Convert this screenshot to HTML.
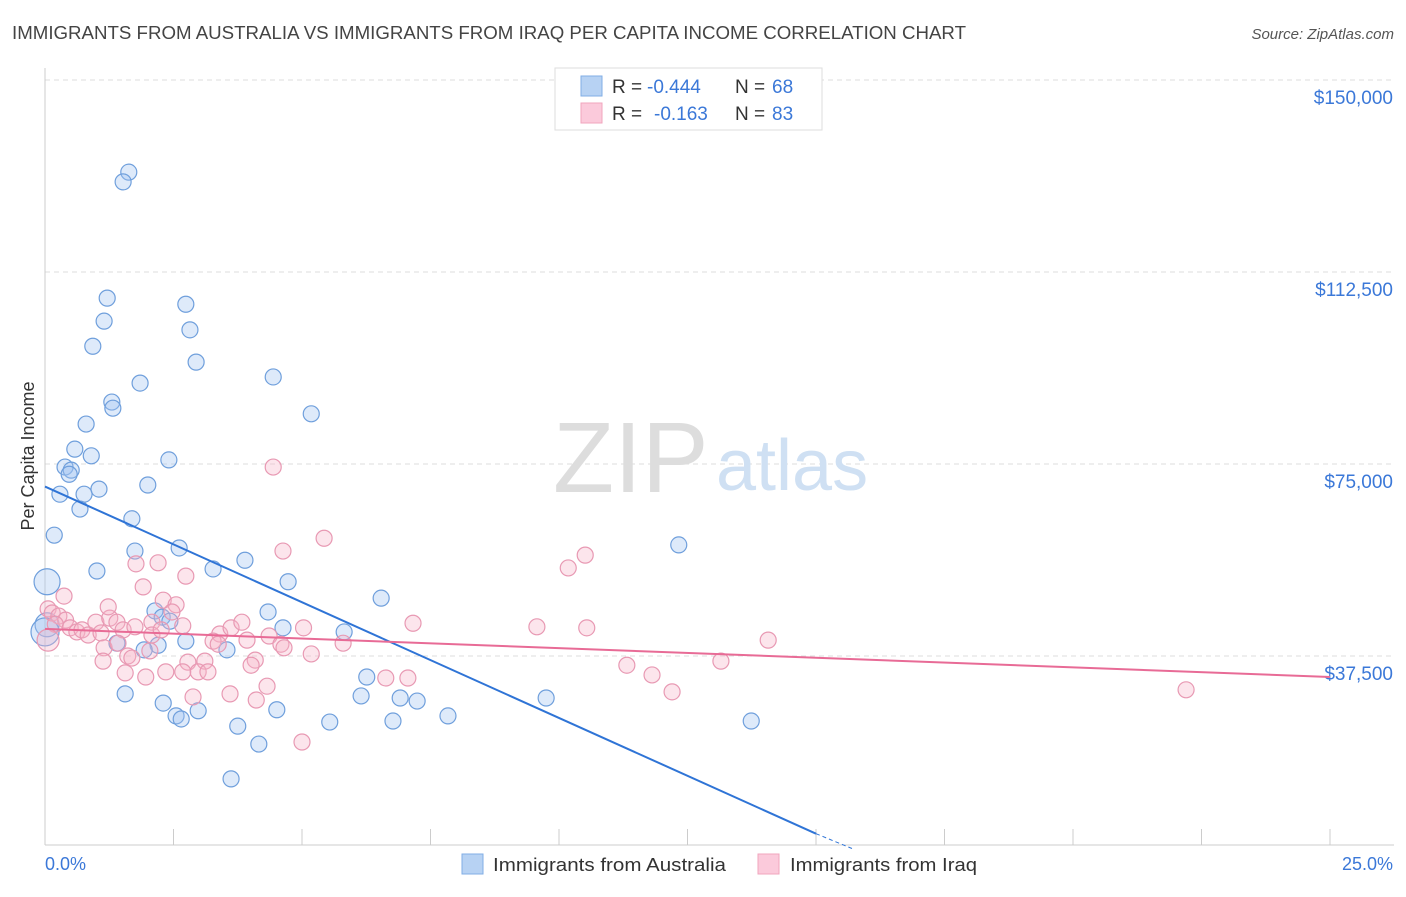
<!DOCTYPE html>
<html><head><meta charset="utf-8">
<style>
body{margin:0;background:#fff;font-family:"Liberation Sans",sans-serif;}
svg text{font-family:"Liberation Sans",sans-serif;}
</style></head>
<body>
<svg id="chart" width="1406" height="892">
<text x="12" y="39" font-size="18" fill="#444" textLength="954" lengthAdjust="spacingAndGlyphs">IMMIGRANTS FROM AUSTRALIA VS IMMIGRANTS FROM IRAQ PER CAPITA INCOME CORRELATION CHART</text>
<text x="1394" y="39" font-size="15" fill="#555" font-style="italic" text-anchor="end">Source: ZipAtlas.com</text>
<g id="grid"></g>
<g>
<text x="553" y="492" font-size="100" font-family="Liberation Serif,serif" fill="#ddd">ZIP</text>
<text x="716" y="490" font-size="72" fill="#cfe0f3">atlas</text>
</g>
<line x1="45" y1="68" x2="45" y2="845" stroke="#ccc"/>
<line x1="45" y1="845" x2="1394" y2="845" stroke="#ccc"/>
<g id="ticks"></g>
<text x="34" y="456" font-size="18" fill="#333" text-anchor="middle" transform="rotate(-90 34 456)">Per Capita Income</text>
<text x="45" y="870" font-size="18" fill="#3b78d8">0.0%</text>
<text x="1393" y="870" font-size="18" fill="#3b78d8" text-anchor="end">25.0%</text>
<g id="pts"></g>
<g id="lines"></g>
<g>
<rect x="555" y="68" width="267" height="62" fill="#fff" stroke="#ddd"/>
<rect x="581" y="76" width="21" height="20" fill="#b7d2f3" stroke="#80aee6"/>
<rect x="581" y="103" width="21" height="20" fill="#fbcadb" stroke="#f0a5be"/>
<text x="612" y="93" font-size="19" fill="#333">R =</text>
<text x="647" y="93" font-size="19" fill="#3b78d8">-0.444</text>
<text x="735" y="93" font-size="19" fill="#333">N =</text>
<text x="772" y="93" font-size="19" fill="#3b78d8">68</text>
<text x="612" y="120" font-size="19" fill="#333">R =</text>
<text x="654" y="120" font-size="19" fill="#3b78d8">-0.163</text>
<text x="735" y="120" font-size="19" fill="#333">N =</text>
<text x="772" y="120" font-size="19" fill="#3b78d8">83</text>
</g>
<g>
<rect x="462" y="854" width="21" height="20" fill="#b7d2f3" stroke="#80aee6"/>
<text x="493" y="871" font-size="18.5" fill="#333" textLength="233" lengthAdjust="spacingAndGlyphs">Immigrants from Australia</text>
<rect x="758" y="854" width="21" height="20" fill="#fbcadb" stroke="#f0a5be"/>
<text x="790" y="871" font-size="18.5" fill="#333" textLength="187" lengthAdjust="spacingAndGlyphs">Immigrants from Iraq</text>
</g>
</svg>
<script>
const yTicks=[37500,75000,112500,150000];
const yTickLabels=["$37,500","$75,000","$112,500","$150,000"];
const blueX=[1.63,1.52,1.21,2.74,1.15,2.82,0.93,2.94,4.44,1.85,1.30,1.32,5.18,0.80,0.58,0.90,2.41,0.39,0.51,0.47,2.00,1.05,0.29,0.76,0.68,1.69,0.18,12.33,2.61,1.75,3.89,1.01,3.27,0.04,4.73,6.54,2.14,4.34,2.28,2.43,0.04,0.0,4.63,5.82,1.40,2.20,2.74,1.93,3.54,6.26,1.56,6.15,6.91,7.24,9.75,2.30,2.98,4.51,2.55,2.65,7.84,5.54,6.77,13.74,3.75,4.16,3.62];
const blueY=[132.0,130.1,107.4,106.2,102.9,101.2,98.0,94.9,92.0,90.8,87.1,85.9,84.8,82.8,77.9,76.6,75.8,74.4,73.8,73.0,70.9,70.1,69.1,69.1,66.2,64.3,61.1,59.2,58.6,58.0,56.2,54.1,54.5,52.0,52.0,48.8,46.3,46.1,45.1,44.3,43.6,42.2,43.0,42.2,40.0,39.6,40.4,38.7,38.7,33.4,30.1,29.7,29.3,28.7,29.3,28.3,26.8,27.0,25.8,25.2,25.8,24.6,24.8,24.8,23.8,20.3,13.5];
const blueR=[8,8,8,8,8,8,8,8,8,8,8,8,8,8,8,8,8,8,8,8,8,8,8,8,8,8,8,8,8,8,8,8,8,13,8,8,8,8,8,8,12,14,8,8,8,8,8,8,8,8,8,8,8,8,8,8,8,8,8,8,8,8,8,8,8,8,8];
const pinkX=[4.44,5.43,4.63,10.51,10.18,1.77,2.20,2.74,1.91,0.37,2.30,0.06,0.14,0.27,0.40,0.20,0.49,0.62,0.72,0.84,0.99,1.09,1.26,1.23,1.40,1.52,1.75,2.08,2.08,2.55,2.47,2.68,2.26,3.40,3.62,3.83,4.36,4.59,5.03,5.80,7.16,9.57,10.54,14.07,1.15,1.42,1.61,1.13,1.69,2.04,2.78,3.11,3.27,3.37,3.93,4.09,4.01,5.18,4.65,1.56,1.96,2.35,2.68,2.98,3.17,6.63,7.06,11.32,11.81,13.15,12.20,22.20,4.32,2.88,3.60,4.11,5.00,0.06];
const pinkY=[74.4,60.5,58.0,57.2,54.7,55.5,55.7,53.1,51.0,49.2,48.4,46.7,45.9,45.3,44.5,43.7,43.0,42.2,42.6,41.6,44.1,42.0,44.9,47.1,44.1,42.6,43.2,44.1,41.6,47.5,46.1,43.4,42.6,41.8,43.0,44.1,41.4,39.8,43.0,40.0,43.9,43.2,43.0,40.6,39.1,40.0,37.5,36.5,37.1,38.5,36.3,36.5,40.4,39.8,40.6,36.7,35.7,37.9,39.1,34.2,33.4,34.4,34.4,34.4,34.4,33.2,33.2,35.7,33.8,36.5,30.5,30.9,31.6,29.5,30.1,28.9,20.7,40.6];
const blueTrend=[[0,70.6],[15.0,2.8]];
const pinkTrend=[[0,42.8],[25.0,33.4]];
const NS="http://www.w3.org/2000/svg";
const xs=p=>45+p*51.4;
const ys=k=>848-k*1000*192/37500;
function mk(t,a,parent){const e=document.createElementNS(NS,t);for(const k in a)e.setAttribute(k,a[k]);parent.appendChild(e);return e;}
const grid=document.getElementById('grid'),ticks=document.getElementById('ticks'),pts=document.getElementById('pts'),lines=document.getElementById('lines');
yTicks.forEach((v,i)=>{
 const y=ys(v/1000);
 const l=mk('line',{x1:45,x2:1394,y1:y,y2:y,stroke:'#ddd','stroke-dasharray':'5,4'},grid);
 
 
 const t=mk('text',{x:1393,y:y+24,'font-size':19,fill:'#3b78d8','text-anchor':'end'},ticks);
 t.textContent=yTickLabels[i];
 
 
});
for(let i=1;i<=10;i++){
 const x=xs(i*2.5);
 const t=mk('line',{x1:x,x2:x,y1:829,y2:845,stroke:'#ccc'},ticks);
 
 
}
blueX.forEach((x,i)=>{
 const c=mk('circle',{cx:xs(x),cy:ys(blueY[i]),r:blueR[i]||8,fill:'rgba(160,196,240,0.35)',stroke:'#6f9fdc','stroke-width':1.2},pts);
 
 
});
pinkX.forEach((x,i)=>{
 const c=mk('circle',{cx:xs(x),cy:ys(pinkY[i]),r:i==pinkX.length-1?11:8,fill:'rgba(245,180,200,0.35)',stroke:'#e899b3','stroke-width':1.2},pts);
 
 
});
const bl=mk('line',{x1:xs(blueTrend[0][0]),y1:ys(blueTrend[0][1]),x2:xs(blueTrend[1][0]),y2:ys(blueTrend[1][1]),stroke:'#2f74d6','stroke-width':2},lines);


const bd=mk('line',{x1:xs(blueTrend[1][0]),y1:ys(blueTrend[1][1]),x2:xs(15.7),y2:ys(-0.1),stroke:'#2f74d6','stroke-width':1,'stroke-dasharray':'4,3'},lines);


const pl=mk('line',{x1:xs(pinkTrend[0][0]),y1:ys(pinkTrend[0][1]),x2:xs(pinkTrend[1][0]),y2:ys(pinkTrend[1][1]),stroke:'#e86b96','stroke-width':2},lines);


</script>
</body></html>
